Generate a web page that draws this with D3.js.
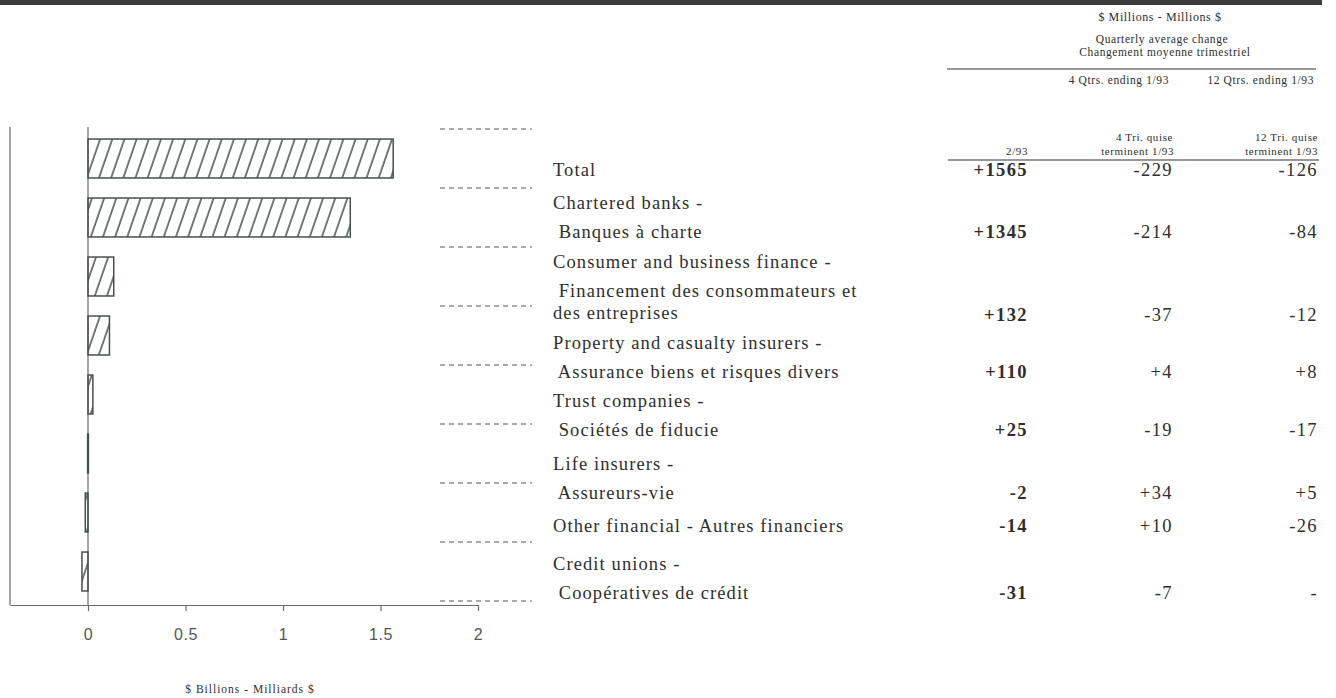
<!DOCTYPE html>
<html>
<head>
<meta charset="utf-8">
<script src="https://cdn.jsdelivr.net/npm/d3@7"></script>
<style>
  html, body { margin: 0; padding: 0; background: #fff; }
  svg { display: block; }
  .serif { font-family: "Liberation Serif", "Times New Roman", serif; fill: #2e2e2e; }
  .narrow { font-family: "Liberation Sans Narrow", "Arial Narrow", "Liberation Sans", sans-serif; fill: #555; }
</style>
</head>
<body>
<svg id="chart" width="1336" height="698"></svg>
<script>
// Financial institutions: change in assets, 2/93 vs quarterly averages
const categories = ["Total", "Chartered banks", "Consumer and business finance",
  "Property and casualty insurers", "Trust companies", "Life insurers",
  "Other financial", "Credit unions"];

const labelLines = [
  ["Total"],
  ["Chartered banks -", " Banques à charte"],
  ["Consumer and business finance -", " Financement des consommateurs et", "des entreprises"],
  ["Property and casualty insurers -", " Assurance biens et risques divers"],
  ["Trust companies -", " Sociétés de fiducie"],
  ["Life insurers -", " Assureurs-vie"],
  ["Other financial - Autres financiers"],
  ["Credit unions -", " Coopératives de crédit"]
];

// $ millions
const change293 = [1565, 1345, 132, 110, 25, -2, -14, -31];
const avg4Qtrs = ["-229", "-214", "-37", "+4", "-19", "+34", "+10", "-7"];
const avg12Qtrs = ["-126", "-84", "-12", "+8", "-17", "+5", "-26", "-"];

const xTicks = [0, 0.5, 1, 1.5, 2];

// text line centres of the table rows, one list per category
const lineY = [
  [170], [203, 232], [262, 291, 313], [343, 372], [401, 430], [464, 493], [526], [564, 593]
];

const svg = d3.select("#chart");

// dark rule across the top
svg.append("rect").attr("x", 0).attr("y", 0).attr("width", 1322).attr("height", 5).attr("fill", "#3c3c3c");

const x = d3.scaleLinear().domain([-0.4, 2]).range([10, 478]);
const y = d3.scaleBand().domain(categories).range([129, 601])
  .paddingInner(0.34).paddingOuter(0.17);

// hatch pattern
const defs = svg.append("defs");
const pat = defs.append("pattern").attr("id", "hatch")
  .attr("patternUnits", "userSpaceOnUse").attr("width", 11.5).attr("height", 10)
  .attr("patternTransform", "rotate(19)");
pat.append("line").attr("x1", 2).attr("y1", -1).attr("x2", 2).attr("y2", 11)
  .attr("stroke", "#45524a").attr("stroke-width", 1.5);

const axisY = 605;
const lineCol = "#6a6a6a";

// left frame line and zero line
svg.append("line").attr("x1", x(-0.4)).attr("x2", x(-0.4)).attr("y1", 127).attr("y2", axisY)
  .attr("stroke", lineCol).attr("stroke-width", 1.2);
svg.append("line").attr("x1", x(0)).attr("x2", x(0)).attr("y1", 127).attr("y2", axisY)
  .attr("stroke", lineCol).attr("stroke-width", 1.2);

// bars
svg.append("g").selectAll("rect").data(categories).join("rect")
  .attr("x", (d, i) => x(Math.min(0, change293[i] / 1000)))
  .attr("y", d => y(d))
  .attr("width", (d, i) => Math.max(0.8, Math.abs(x(change293[i] / 1000) - x(0))))
  .attr("height", y.bandwidth())
  .attr("fill", "url(#hatch)")
  .attr("stroke", "#45524a").attr("stroke-width", 1.5);

// x axis
const axis = d3.axisBottom(x).tickValues(xTicks).tickSize(6).tickSizeOuter(0)
  .tickFormat(d => String(d));
const gx = svg.append("g").attr("transform", `translate(0,${axisY})`).call(axis);
gx.select(".domain").attr("stroke", lineCol).attr("stroke-width", 1.2);
gx.selectAll(".tick line").attr("stroke", lineCol).attr("stroke-width", 1.2);
gx.selectAll(".tick text").attr("class", "narrow").attr("y", 24)
  .style("font-size", "16px").style("letter-spacing", "0.6px").attr("fill", "#555");

svg.append("text").attr("class", "serif").attr("x", 250).attr("y", 693)
  .attr("text-anchor", "middle").style("font-size", "11.5px").style("letter-spacing", "1px")
  .text("$ Billions - Milliards $");

// dashed separators between rows
const bounds = categories.map(c => y(c) - y.step() * y.paddingInner() / 2)
  .concat([y(categories[categories.length - 1]) + y.bandwidth() + y.step() * y.paddingInner() / 2]);
svg.append("g").selectAll("line").data(bounds).join("line")
  .attr("x1", 440).attr("x2", 532).attr("y1", d => d).attr("y2", d => d)
  .attr("stroke", "#555").attr("stroke-width", 1).attr("stroke-dasharray", "5,4");

// row labels
const labelG = svg.append("g");
labelLines.forEach((lines, i) => {
  lines.forEach((t, j) => {
    labelG.append("text").attr("class", "serif").attr("x", 553).attr("y", lineY[i][j] + 6)
      .attr("xml:space", "preserve")
      .style("font-size", "18.5px").style("letter-spacing", "1.1px")
      .text(t);
  });
});

// values
const fmt = v => (v > 0 ? "+" : "") + v;
const colX = [1028, 1173, 1318];
categories.forEach((c, i) => {
  const yy = lineY[i][lineY[i].length - 1] + 6 + (i === 2 ? 2 : 0);
  [fmt(change293[i]), avg4Qtrs[i], avg12Qtrs[i]].forEach((v, k) => {
    svg.append("text").attr("class", "serif").attr("x", colX[k]).attr("y", yy)
      .attr("text-anchor", "end")
      .style("font-size", "18.5px").style("letter-spacing", "1.4px")
      .style("font-weight", k === 0 ? "bold" : "normal")
      .attr("fill", k === 0 ? "#333" : "#3a3a3a")
      .text(v);
  });
});

// column headers
const hdr = svg.append("g");
const small = (t, xx, yy, size, anchor) => hdr.append("text").attr("class", "serif")
  .attr("x", xx).attr("y", yy).attr("text-anchor", anchor || "end")
  .style("font-size", size + "px").style("letter-spacing", "0.6px").text(t);

small("$ Millions - Millions $", 1160, 21, 12, "middle");
small("Quarterly average change", 1162, 43, 11.5, "middle");
small("Changement moyenne trimestriel", 1165, 56, 11.5, "middle");
hdr.append("line").attr("x1", 947).attr("x2", 1316).attr("y1", 69).attr("y2", 69)
  .attr("stroke", "#333").attr("stroke-width", 1.2);
small("4 Qtrs. ending 1/93", 1169, 84, 11.5);
small("12 Qtrs. ending 1/93", 1314, 84, 11.5);
small("4 Tri. quise", 1173, 141, 11);
small("12 Tri. quise", 1318, 141, 11);
small("2/93", 1028, 155, 11);
small("terminent 1/93", 1174, 155, 11);
small("terminent 1/93", 1318, 155, 11);
hdr.append("line").attr("x1", 948).attr("x2", 1319).attr("y1", 160).attr("y2", 160)
  .attr("stroke", "#333").attr("stroke-width", 1.2);
</script>
</body>
</html>
